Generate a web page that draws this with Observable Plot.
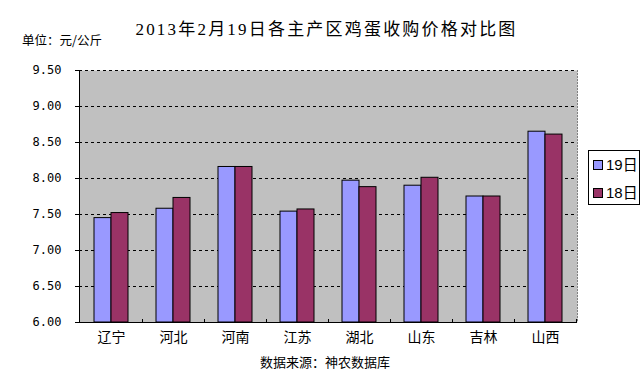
<!DOCTYPE html>
<html>
<head>
<meta charset="utf-8">
<script src="https://cdn.jsdelivr.net/npm/d3@7"></script>
<script src="https://cdn.jsdelivr.net/npm/@observablehq/plot@0.6"></script>
<style>
  body { margin: 0; background: #fff; }
  #wrap { position: relative; width: 643px; height: 375px; overflow: hidden; font-family: "Noto Sans CJK SC", sans-serif; }
  #wrap svg { position: absolute; left: 0; top: 0; }
  .title { position: absolute; top: 19px; left: 0; width: 653px; text-align: center; font-family: "Liberation Serif", "Noto Sans CJK SC", serif; font-size: 17px; letter-spacing: 2.2px; color: #000; line-height: 22px; }
  .unit { position: absolute; left: 22px; top: 32px; font-size: 12.5px; line-height: 16px; color: #000; }
  .caption { position: absolute; left: 0; width: 650px; top: 353px; text-align: center; font-size: 13px; line-height: 17px; color: #000; }
  .legend { position: absolute; left: 588px; top: 150px; width: 52px; height: 55px; box-sizing: border-box; border: 1px solid #000; background: #fff; }
  .legend .item { position: absolute; left: 4px; font-size: 15px; line-height: 18px; font-family: "Liberation Sans", "Noto Sans CJK SC", sans-serif; white-space: nowrap; }
  .legend .sw { display: inline-block; width: 8px; height: 8px; border: 1px solid #000; margin-right: 3px; vertical-align: 0px; }
</style>
</head>
<body>
<div id="wrap"></div>
<script>
const titleText = "2013年2月19日各主产区鸡蛋收购价格对比图";
const unitText = "单位：元/公斤";
const captionText = "数据来源：神农数据库";
const categories = ["辽宁", "河北", "河南", "江苏", "湖北", "山东", "吉林", "山西"];
const series = ["19日", "18日"];
const values19 = [7.45, 7.58, 8.16, 7.54, 7.97, 7.90, 7.75, 8.65];
const values18 = [7.52, 7.73, 8.16, 7.57, 7.88, 8.01, 7.75, 8.61];
const colors = ["#9999ff", "#993366"];
const yTicks = [6.0, 6.5, 7.0, 7.5, 8.0, 8.5, 9.0, 9.5];

const data = [];
categories.forEach((c, i) => {
  data.push({cat: c, series: series[0], value: values19[i]});
  data.push({cat: c, series: series[1], value: values18[i]});
});

// boundary tick marks on the category axis
function boundaryTicks(index, scales, values, dimensions) {
  const x = scales.x, y = scales.y;
  const step = x(categories[1]) - x(categories[0]);
  const y0 = y(6);
  const g = d3.create("svg:g");
  categories.forEach(c => {
    const xx = Math.round(x(c) + step) + 0.5;
    g.append("line").attr("x1", xx).attr("x2", xx).attr("y1", y0).attr("y2", y0 - 3)
      .attr("stroke", "#000");
  });
  return g.node();
}

const chart = Plot.plot({
  width: 643,
  height: 375,
  marginLeft: 79,
  marginRight: 66,
  marginTop: 70,
  marginBottom: 53,
  style: {background: "transparent", fontFamily: "Noto Sans CJK SC, sans-serif"},
  x: {domain: categories, paddingInner: 0, paddingOuter: 0, label: null},
  y: {domain: [6, 9.5], label: null},
  marks: [
    Plot.frame({fill: "#c0c0c0", stroke: null}),
    Plot.gridY(yTicks.slice(1), {stroke: "#000", strokeOpacity: 1, strokeDasharray: "3,3"}),
    Plot.frame({anchor: "right", stroke: "#808080", strokeDasharray: "1,2"}),
    Plot.barY(data.filter(d => d.series === series[0]), {
      x: "cat", y1: 6, y2: "value", fill: colors[0], stroke: "#000", strokeWidth: 1,
      insetLeft: 14, insetRight: 31
    }),
    Plot.barY(data.filter(d => d.series === series[1]), {
      x: "cat", y1: 6, y2: "value", fill: colors[1], stroke: "#000", strokeWidth: 1,
      insetLeft: 31, insetRight: 14
    }),
    Plot.ruleY([6], {stroke: "#000"}),
    Plot.frame({anchor: "left", stroke: "#000"}),
    boundaryTicks,
    Plot.axisY({ticks: yTicks, tickSize: 4, tickPadding: 14, tickFormat: d => d.toFixed(2),
      fontSize: 12, fontFamily: "DejaVu Sans Mono", stroke: "#000", fill: "#000"}),
    Plot.axisX({tickSize: 0, tickPadding: 10, fontSize: 14, fill: "#000", label: null})
  ]
});

const wrap = document.getElementById("wrap");
wrap.appendChild(chart);

const t = document.createElement("div"); t.className = "title"; t.textContent = titleText; wrap.appendChild(t);
const u = document.createElement("div"); u.className = "unit"; u.textContent = unitText; wrap.appendChild(u);
const cap = document.createElement("div"); cap.className = "caption"; cap.textContent = captionText; wrap.appendChild(cap);
const lg = document.createElement("div"); lg.className = "legend";
series.forEach((s, i) => {
  const it = document.createElement("div"); it.className = "item";
  it.style.top = (5 + i * 28) + "px";
  const sw = document.createElement("span"); sw.className = "sw"; sw.style.background = colors[i];
  it.appendChild(sw);
  it.appendChild(document.createTextNode(s));
  lg.appendChild(it);
});
wrap.appendChild(lg);
</script>
</body>
</html>
